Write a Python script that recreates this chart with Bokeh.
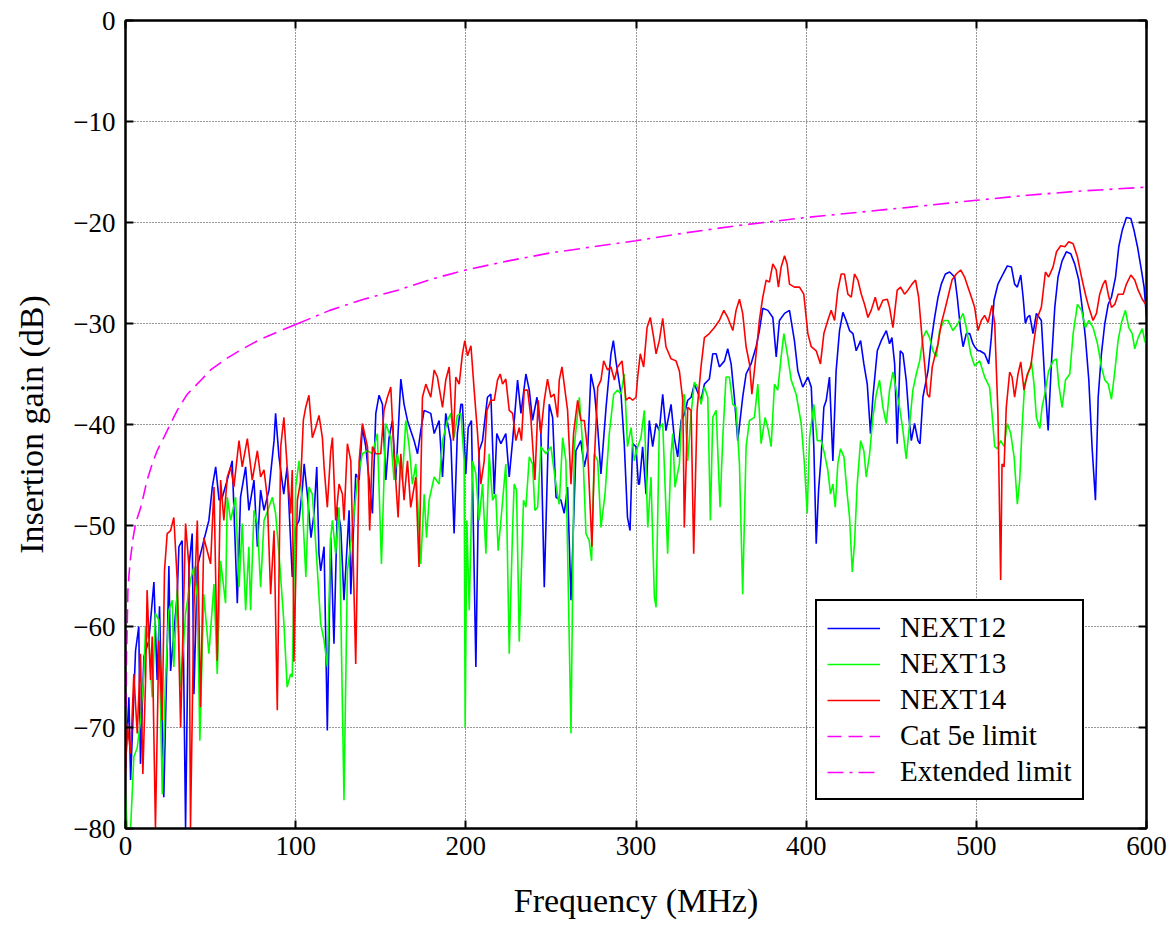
from bokeh.plotting import figure
from bokeh.models import LinearAxis, Range1d, Legend, LegendItem, FixedTicker
from bokeh.embed import file_html
from bokeh.resources import INLINE

# ---------------- data ----------------
f12 = [0, 2, 3, 5.9, 7.8, 8.8, 10.8, 13.7, 16.7, 18.6, 20, 22.5, 24.5, 25.5, 26.5, 30.4, 31.4, 33.3, 35.3, 37.3,
       39.2, 40.2, 42.2, 46, 49, 51, 53, 55, 56.9, 59.8, 62.7, 65.7, 67.6, 70.6, 72.5, 75.5, 77.5, 79.4, 81.4, 84.3,
       87.3, 88.2, 90.2, 93, 95, 98, 100, 102, 104, 105, 107, 109, 110.8, 112.4, 113.7, 114.7, 116.7, 118.6, 120.6, 122.5,
       124.5, 126.5, 128.4, 131.4, 132.4, 135.3, 137.3, 139.2, 141.2, 145.1, 147.1, 149, 151, 153, 154.9, 156.9, 158.8, 161.8, 163.7, 165.7,
       167.6, 169.6, 171.6, 173.5, 175.5, 179.4, 181.4, 184.3, 186.3, 188.2, 191.2, 193.1, 195, 197.1, 198, 200, 201.4, 203.3, 205.9, 207.8,
       209.8, 212.7, 214.7, 216.7, 218.2, 220.6, 223.5, 225.5, 227.5, 230.4, 232.4, 235.3, 237.3, 239.2, 241.8, 244.1, 246.1, 249, 251, 253,
       255.9, 257.8, 259.8, 261.8, 264.7, 267.6, 269.6, 271.6, 273.5, 275.5, 277.5, 279.4, 282.4, 285.3, 286.7, 288.2, 291.2, 293.1, 295, 296.5,
       298, 300, 301.4, 302, 303.9, 305.9, 307.8, 309.8, 311.8, 313.7, 315.7, 317.6, 320.6, 322.5, 324.5, 326.5, 328.4, 330.4, 332.4, 334.3,
       338.2, 340.2, 343.1, 345.1, 347.1, 349, 352, 353.9, 355.9, 357.8, 359.8, 362.7, 364.7, 367.6, 370.6, 372.5, 374.5, 377.5, 380.4, 382.4,
       384.3, 387.3, 390.2, 393.1, 395.1, 398, 401, 403, 404.5, 405.9, 407.3, 408.8, 410.4, 411.8, 413.7, 415.7, 417.6, 419.6, 421.6, 423.5,
       425.5, 427.5, 429.4, 432, 433.9, 435.9, 437.8, 439.2, 441.8, 444.1, 447.1, 449, 450.4, 452, 453.5, 455.3, 456.9, 458.8, 460.4, 461.8,
       463.7, 465.7, 466.9, 468.6, 471.6, 473.5, 475.5, 477.5, 479.4, 481.8, 484.3, 487.3, 488.8, 490.8, 492.2, 494.1, 496.1, 498, 499, 501,
       502, 504.9, 507.3, 508.8, 510.4, 512.7, 515.7, 518.2, 520.6, 522.5, 524.1, 526.1, 527.5, 528.8, 530, 531.4, 533.3, 535.3, 538.2, 540.2,
       542.2, 544.1, 546.1, 548, 550.4, 552.9, 555.5, 557.8, 560.2, 562.2, 564.1, 566.1, 568, 570, 571.6, 573.5, 575.5, 577.5, 579.4, 581.8,
       583.7, 585.7, 588.2, 590.8, 592.7, 594.7, 596.7, 598.6, 600]
next12 = [-74, -67, -75.2, -62.4, -60, -73.6, -63, -61.4, -55.6, -65.3, -58, -76.9, -62, -54, -64.4, -56.8, -52.1, -51.5, -80, -54.1,
          -50.8, -66.7, -54.1, -51.5, -49.5, -46.2, -44.2, -47.5, -47.2, -45.5, -43.6, -57.7, -47.2, -44.2, -48.5, -45.5, -52.1, -46.5, -48.5, -46.5,
          -41.6, -38.9, -43.2, -46.9, -44.2, -55.1, -50.2, -49.5, -46.2, -43.9, -47.2, -51.2, -48.8, -44.2, -52.8, -54.5, -52.1, -70.3, -51.2, -61.7,
          -48.2, -50.2, -57.4, -48.5, -56.8, -44.9, -45.5, -40.3, -42.2, -48.8, -38.9, -37.1, -38, -45.5, -41.3, -39.6, -45.5, -35.5, -38, -39.6,
          -40.6, -41.6, -42.9, -40.6, -38.6, -38.9, -40.9, -39.6, -45.2, -38.9, -41.6, -50.8, -40.9, -38, -38, -44.9, -40.3, -39.6, -64, -42.6,
          -41.6, -37.3, -37, -46.9, -40.9, -41.9, -40.9, -45.2, -41.6, -35.6, -38.9, -35, -36.6, -39.6, -37.3, -40.9, -56.1, -38, -39.3, -47.2,
          -47.5, -48.8, -46.2, -57.4, -42.6, -41.6, -44.2, -42.6, -35, -36.6, -40.3, -44.9, -38.3, -33, -31.7, -33.7, -37, -41.9, -49.2, -50.5,
          -41.9, -42.2, -45.9, -45.9, -42.2, -46.9, -39.6, -42.2, -39.9, -40.6, -37, -40.6, -38, -41.3, -43.2, -39.6, -39, -37.6, -37.3, -36,
          -37.6, -36, -35.5, -33, -33, -34.3, -33.7, -32.5, -34, -37.3, -41.6, -37.3, -35, -34, -32.3, -30.7, -28.5, -28.7, -29.4, -33.3,
          -29.7, -29, -28.7, -31.7, -34.7, -36.3, -35.3, -36.3, -42.2, -51.8, -46.5, -43.2, -38.3, -37.6, -35.3, -43.6, -34.7, -30.7, -28.9, -29.7,
          -30.7, -31, -32.7, -31.7, -34, -36, -40.9, -37.3, -32.7, -31.7, -30.7, -32, -31.4, -34, -41.9, -32.7, -33, -35.6, -39.3, -41.6,
          -39.9, -41.6, -41.9, -37.3, -34.7, -31.7, -29.4, -27.4, -26.1, -25.1, -24.9, -25.4, -27.4, -30.7, -32.3, -31, -31, -32, -32.3, -32.7,
          -32.7, -33, -34, -31.4, -27.7, -26.1, -25.1, -24.3, -24.4, -26.1, -26.4, -25.2, -27.4, -30, -29.4, -29.2, -31, -29, -29.7, -35.6,
          -40.6, -34, -28.4, -25.4, -23.8, -22.9, -23.1, -24.1, -25.7, -28.4, -31.4, -35.6, -42.2, -47.5, -37.3, -33, -30, -28.1, -27.4, -25.4,
          -22.4, -20.8, -19.5, -19.6, -20.8, -22.4, -24.4, -26.4, -29.4]

f13 = [0, 1, 3, 4.9, 6.9, 8.8, 10.8, 11.8, 13.7, 15.7, 17.6, 19.6, 21.6, 23.5, 25.5, 27.5, 28.4, 30.4, 32.4, 35.3,
       38.2, 40.2, 42.2, 43.7, 46, 49, 52, 53.9, 55.9, 58.8, 59.8, 61.8, 64.7, 66.7, 68.6, 70.6, 72.5, 73.5, 75.5, 77.5,
       79.4, 81.4, 84.3, 86.3, 88.2, 90.2, 93, 95, 97, 98, 100, 102, 104, 106, 107.8, 109.8, 111.8, 114.7, 116.7, 118.6,
       120.6, 121.6, 123.5, 125.5, 128.4, 130.4, 133.3, 136.3, 139.2, 142.2, 145.1, 148, 150.4, 152.9, 155.9, 157.8, 159.8, 162.7, 164.7, 166.7,
       168.6, 170.6, 173.5, 175.5, 176.9, 178.4, 181.4, 184.3, 186.3, 189.2, 191.2, 193.1, 195, 197.1, 199, 199.6, 200.6, 202, 204, 205.9,
       207.8, 209.8, 211.8, 213.7, 215.7, 217.6, 219, 220.6, 223.5, 225.5, 227.5, 228.4, 229.8, 231.4, 233.9, 235.3, 237.3, 239.2, 240.6, 242.2,
       244.1, 247.1, 250, 252.9, 254.9, 256.9, 258.8, 261.8, 263.7, 266.7, 268.6, 270.6, 272.5, 273.9, 275.5, 277.5, 279.4, 281.8, 284.3, 286.9,
       289.2, 291.2, 293.1, 295, 297.1, 299, 301, 302.9, 304.9, 306.9, 308.8, 310.8, 311.8, 313.7, 315.7, 318.6, 320.6, 321.6, 322.9, 325.5,
       327.5, 328.4, 330.4, 332.4, 334.3, 336.3, 338.2, 340.2, 342.2, 343.7, 345.1, 347.1, 349.4, 351, 352.9, 354.9, 356.9, 358.8, 360.8, 362.7,
       364.7, 366.7, 369.6, 371.6, 373.5, 375.9, 377.8, 379.4, 381.4, 383.3, 385.3, 386.9, 389.2, 391.2, 394.1, 397.1, 399, 400.6, 402, 404.5,
       406.5, 408.8, 410.8, 412.7, 414.3, 415.7, 417.1, 418.6, 420.2, 422.2, 424.1, 425.5, 427.1, 428.4, 430, 432, 433.9, 435.3, 437.3, 439.2,
       441.2, 443.1, 445.1, 447.1, 449, 451, 452.9, 454.9, 456.9, 458.8, 460.8, 462.7, 464.7, 466.7, 468.6, 470.6, 472.5, 474.5, 476.5, 478.4,
       481, 483.3, 486.3, 489.2, 492.2, 494.1, 496.7, 499, 502, 504.9, 507.8, 509.2, 510.8, 512.4, 514.3, 516.3, 518.2, 520.2, 522.2, 524.1,
       525.5, 526.9, 528.4, 530.4, 532.4, 533.9, 535.3, 537.3, 538.6, 540.2, 542.5, 545.1, 547.1, 548.4, 550.4, 552.4, 554.9, 556.9, 559.4, 561.8,
       564.1, 566.1, 568.6, 571.2, 573.5, 575.5, 577.5, 579.4, 581.4, 583.3, 585.3, 587.6, 589.6, 591.6, 593.1, 595.1, 597.5, 599, 600]
next13 = [-76.6, -80, -80, -72.9, -72, -69.3, -64.7, -60, -61.4, -67, -58.7, -59.4, -76.6, -65.3, -58.4, -57.4, -64, -56.4, -66, -58.7,
          -55.4, -54.1, -57.1, -71.3, -56.8, -62.7, -55.8, -64.7, -53.5, -57.7, -47.2, -49.5, -47.2, -56.1, -49.8, -58.4, -52.1, -58.4, -48.5, -49.8,
          -56.1, -49.5, -48.2, -47.2, -48.8, -52.8, -59.4, -66, -64.7, -65, -46.2, -43.6, -48.2, -55.1, -46.2, -46.9, -51.8, -59.7, -61.4, -64,
          -51.2, -49.5, -52.8, -48.2, -77.2, -54.5, -50.5, -45.5, -42.9, -42.6, -42.9, -40.9, -53.8, -39.9, -41.3, -45.5, -42.9, -45.5, -39.6, -42.2,
          -45.9, -43.9, -53.8, -46.9, -51.2, -47.5, -45.2, -45.9, -41.6, -39.6, -38.9, -41.3, -39.1, -38.9, -43.6, -70, -49.5, -58.4, -43.6, -44.9,
          -49.5, -45.9, -52.8, -42.9, -47.5, -46.9, -52.5, -49.5, -43.9, -62.7, -50.2, -45.9, -46.5, -61.5, -47.5, -48.2, -43.2, -43.9, -48.5, -48.2,
          -42.2, -42.9, -42.2, -45.9, -47.9, -41.3, -43.6, -70.6, -42.2, -37.3, -41.9, -50.8, -51.5, -53.5, -42.9, -43.6, -50.2, -46.9, -40.9, -37,
          -36.6, -37, -35, -42.2, -40.3, -43.6, -42.2, -41.3, -38.6, -50.2, -45.2, -57.1, -58.1, -40.3, -39.9, -52.8, -42.9, -40.9, -46.2, -43.9,
          -37.3, -37, -43.6, -38.9, -35.8, -36.3, -38, -36.3, -37.3, -49.5, -39.3, -38.6, -48.2, -41.3, -35.3, -35.3, -38, -38.3, -43.9, -56.8,
          -42.2, -39.6, -39.3, -36, -41.9, -39.3, -40.6, -42.2, -36, -36.6, -33.3, -31, -33.3, -35.6, -37, -39.9, -44, -48.8, -41.3, -38,
          -41.6, -41.6, -42.9, -44.5, -46.9, -45.9, -48.2, -43.9, -42.4, -43.2, -46.9, -49.2, -54.6, -51.8, -45.9, -41.6, -42.6, -45.2, -42.9, -39.3,
          -37, -35.6, -38.3, -39.9, -36.6, -34.8, -36.6, -38.3, -40.6, -43.4, -39.9, -36.6, -35, -33.7, -31.4, -30.7, -31.4, -32.7, -33.3, -30.7,
          -29.7, -29.7, -30.7, -30, -29, -30.4, -33, -34.2, -33.7, -35.3, -36.3, -38.9, -42.2, -42.4, -41.6, -42.2, -39.9, -40.9, -43.2, -47.9,
          -45.5, -40.3, -36, -35, -33.8, -36, -39.3, -40.4, -38.3, -37, -34.7, -33.7, -33.5, -36, -38.3, -35.6, -35, -31, -28.1, -28.7,
          -30.4, -29.7, -30.4, -32, -34.3, -35.6, -36, -37.5, -34.7, -31.7, -29.9, -28.7, -30.4, -31, -32.5, -31.4, -30.5, -31.7, -32.2]

f14 = [0, 1, 3, 4.9, 6.9, 8.8, 10.2, 11.8, 12.7, 14.7, 15.7, 17.6, 19.6, 21.6, 22.9, 24.5, 26.5, 28.4, 30.4, 32.4,
       35.3, 37.3, 38.2, 40.2, 42.2, 44.1, 46, 48, 50, 52, 53.9, 55.9, 57.8, 59.8, 61.8, 63.7, 66.7, 68.6, 71.6, 74.5,
       77.5, 79.4, 81.4, 83.3, 85.3, 87.3, 89.2, 91.2, 93.1, 95, 97, 98, 99, 101, 103, 104.5, 105.9, 107.8, 109.8, 111.8,
       113.7, 115.7, 116.7, 118.6, 120.6, 121.6, 123.5, 125.5, 127.5, 128.4, 130.4, 132.4, 135.3, 137.3, 139.2, 142.2, 143.5, 145.1, 147.1, 150,
       151.9, 153.9, 155.9, 157.8, 160.2, 161.8, 163.7, 165.7, 167.6, 170.6, 172.5, 174.5, 176.5, 179.4, 181.4, 183.3, 186.3, 188.2, 190.2, 192.7,
       194.1, 196.1, 198, 199.4, 201, 203, 204.9, 206.9, 208.8, 210.8, 212.4, 214.7, 216.7, 218.6, 220.2, 221.6, 223.5, 225.5, 227.5, 229.4,
       231.4, 232.7, 234.3, 236.3, 238.2, 240.6, 242.5, 244.1, 246.1, 248, 250, 251.9, 253.9, 254.9, 256.5, 257.8, 259.8, 261.8, 263.3, 265.7,
       267.6, 269.6, 271.6, 274.1, 275.5, 277.5, 279.4, 281, 283.3, 285.3, 287.3, 289.2, 291.8, 294.1, 296.1, 298, 300, 301, 302.5, 304.5,
       306.5, 308.4, 310.4, 311.8, 313.7, 315.7, 317.6, 320.6, 323.5, 325.5, 327.5, 328.4, 330.4, 332.4, 333.9, 335.9, 338.2, 340.2, 343.1, 346.1,
       349, 351.6, 353.9, 356.9, 358.8, 360.8, 362.7, 364.7, 366.7, 368.1, 370, 372.5, 374.5, 376.5, 378.4, 380.4, 382.4, 383.7, 385.3, 387.3,
       388.8, 390.2, 393.1, 396.1, 398.6, 401, 403, 405.9, 408.4, 410.4, 412.7, 414.7, 416.7, 418.6, 420.6, 422.5, 424.5, 426.5, 428.4, 430.4,
       432.4, 434.3, 436.3, 438.2, 440.6, 442.5, 445.1, 447.7, 449, 451, 453.5, 455.5, 457.8, 459.8, 462.2, 464.3, 466.1, 468.1, 469.6, 471.2,
       472.5, 474.1, 475.5, 477.5, 479.4, 481.4, 483.3, 485.7, 488.2, 490.8, 493.1, 495.1, 497.1, 499, 501, 502.9, 504.9, 506.9, 509.2, 510.8,
       512.7, 514.3, 515.1, 516.3, 517.6, 519.6, 521, 522.5, 524.5, 526.1, 528, 530, 532, 533.9, 535.9, 538.2, 540.6, 542.5, 545.1, 547.1,
       549.6, 552, 554.3, 556.9, 559.4, 561.8, 564.1, 566.1, 568.6, 570.6, 572.5, 574.5, 575.9, 577.5, 579.4, 581.4, 583.3, 586.3, 588.2, 590.8,
       593.1, 595.1, 597.5, 600]
next14 = [-74.6, -69.6, -72.6, -64.7, -70.6, -62.7, -74.6, -65.3, -56.4, -65.3, -61, -80, -61.4, -69.3, -54.5, -50.8, -50.5, -49.2, -55.4, -70,
          -49.8, -54.1, -80, -58.1, -49.5, -68, -51.2, -52.5, -53.8, -46.2, -63.4, -45.5, -49.5, -45.2, -44.2, -46.2, -41.6, -44.2, -41.4, -45.5,
          -42.6, -45.2, -44.5, -47.2, -56.8, -50.5, -68.3, -42.2, -39.3, -44.2, -48.8, -44.5, -63.5, -47.5, -45.5, -39.6, -38.3, -37.1, -41.3, -40.3,
          -39.1, -41.3, -44.2, -48.2, -42.6, -41.3, -49.5, -45.9, -46.9, -49.5, -41.9, -43.6, -63.7, -43.6, -39.9, -42.2, -50.5, -42.2, -42.9, -42.9,
          -38.6, -37.3, -36.3, -42.9, -49.2, -42.9, -47.5, -43.6, -48.2, -45.2, -54.1, -37.3, -36, -37.3, -34.6, -35.3, -38.3, -35.6, -34.3, -41.6,
          -35.3, -36, -33, -31.7, -33.2, -32.2, -36.6, -40.9, -45.9, -43.6, -38.6, -37.6, -37.6, -35.6, -35, -36, -35.5, -38.6, -38.9, -41.6,
          -40.3, -41.6, -36.6, -36.6, -39.3, -45.5, -37.6, -40.9, -37.6, -35.5, -37.3, -37, -39.3, -35.6, -34.3, -36, -38.6, -45.9, -40.9, -37.6,
          -39.6, -39.6, -42.6, -52.1, -43.6, -36.3, -35.6, -33.7, -34.6, -34.3, -35.6, -34.3, -33.7, -37.6, -37.3, -37.6, -37.3, -35.3, -33, -34.3,
          -30.4, -29.4, -31.4, -33, -31.7, -29.5, -32.3, -33.5, -33.7, -34.7, -37.6, -50.2, -38.3, -38.6, -52.8, -38.6, -34.3, -31.4, -31, -30.4,
          -29.7, -28.7, -29.4, -30.7, -28.7, -27.6, -29, -32.3, -34, -37, -34, -29.7, -27.4, -25.7, -25.9, -24.1, -24.7, -26.4, -24.4, -23.3,
          -24.1, -26.1, -26.4, -26.4, -27.1, -31, -32.3, -32.7, -34, -31, -29.7, -28.7, -29.7, -26.7, -25.1, -25.1, -27.1, -27.4, -25.1, -25.7,
          -27.1, -28.1, -29.4, -28.7, -27.4, -28.7, -27.7, -27.6, -28.4, -30.4, -26.7, -26.4, -27.1, -26.7, -26.1, -25.7, -27.4, -31.4, -34, -37,
          -37.3, -34.3, -33.3, -32, -30, -28.7, -27.4, -25.7, -25.1, -24.7, -25.4, -26.4, -27.4, -28.4, -30.7, -29.7, -29.2, -29.9, -28.2, -30,
          -38.9, -55.4, -43.9, -44.2, -38.3, -34.8, -35.3, -37.3, -35, -33.8, -36.6, -35, -34.3, -31.7, -29.4, -28.4, -24.9, -25.4, -24.4, -22.9,
          -22.3, -22.4, -21.9, -22.1, -23.4, -25.4, -27.1, -28.4, -29.7, -29, -27.1, -26.1, -25.7, -27.1, -28.4, -28.1, -27.1, -27.1, -26.1, -25.2,
          -25.7, -26.7, -27.6, -28.2]

f_cat5e = [0.4, 0.6, 1, 1.4, 2, 2.9, 4.5, 5.9, 8.8, 10.8, 12.7, 15.7, 18.6, 22.5, 26.5, 30.4, 36.3, 45, 50, 60, 70, 80, 90, 100]
cat5e = [-68, -63, -60, -56.5, -55, -53.3, -51.2, -49.8, -48.3, -46.9, -45.5, -43.9, -42.6, -41.3, -39.9, -38.6, -37.0, -35.5, -34.6, -33.4, -32.4, -31.5, -30.8, -30.1]

f_ext = [100, 120, 140, 160, 180, 200, 225, 250, 275, 300, 330, 360, 400, 430, 460, 500, 530, 560, 600]
ext = [-30.1, -28.7, -27.6, -26.7, -25.6, -24.7, -23.8, -23.0, -22.4, -21.8, -21.0, -20.3, -19.5, -19.0, -18.5, -17.8, -17.3, -16.9, -16.5]

x_ticks = [0, 100, 200, 300, 400, 500, 600]
y_ticks = [-80, -70, -60, -50, -40, -30, -20, -10, 0]

FONT = "Liberation Serif"

p = figure(width=1174, height=937, output_backend="svg", toolbar_location=None,
           x_range=Range1d(0, 600), y_range=Range1d(-80, 0),
           min_border_left=125, min_border_right=28, min_border_top=20, min_border_bottom=109,
           background_fill_color="white", border_fill_color="white")

p.outline_line_color = "black"
p.outline_line_width = 2

for ax in (p.xaxis[0], p.yaxis[0]):
    ax.axis_line_width = 2
    ax.major_tick_in = 8
    ax.major_tick_out = 0
    ax.major_tick_line_width = 2
    ax.minor_tick_line_color = None
    ax.major_label_text_font = FONT
    ax.major_label_text_font_size = "27px"
    ax.major_label_text_color = "black"
    ax.axis_label_text_font = FONT
    ax.axis_label_text_font_size = "34px"
    ax.axis_label_text_font_style = "normal"
    ax.axis_label_text_color = "black"

p.xaxis.ticker = FixedTicker(ticks=x_ticks)
p.yaxis.ticker = FixedTicker(ticks=y_ticks)
p.xaxis.axis_label = "Frequency (MHz)"
p.yaxis.axis_label = "Insertion gain (dB)"
p.xaxis.major_label_standoff = 8
p.yaxis.major_label_standoff = 10
p.xaxis.axis_label_standoff = 24
p.yaxis.axis_label_standoff = 20

# mirrored inward ticks on top and right (labels not drawn)
right = LinearAxis(ticker=FixedTicker(ticks=y_ticks), major_label_text_font_size="1px",
                   major_label_text_color=None, major_label_standoff=0,
                   major_tick_in=8, major_tick_out=0, major_tick_line_width=2,
                   minor_tick_line_color=None, axis_line_width=2)
top = LinearAxis(ticker=FixedTicker(ticks=x_ticks), major_label_text_font_size="1px",
                 major_label_text_color=None, major_label_standoff=0,
                 major_tick_in=8, major_tick_out=0, major_tick_line_width=2,
                 minor_tick_line_color=None, axis_line_width=2)
p.add_layout(right, "right")
p.add_layout(top, "above")

p.xgrid.ticker = FixedTicker(ticks=x_ticks)
p.ygrid.ticker = FixedTicker(ticks=y_ticks)
for g in (p.xgrid[0], p.ygrid[0]):
    g.grid_line_color = "black"
    g.grid_line_dash = "1 2"
    g.grid_line_width = 1
    g.grid_line_alpha = 0.8

lw = 1.6
r12 = p.line(f12, next12, line_color="#0000ff", line_width=lw)
r13 = p.line(f13, next13, line_color="#00ff00", line_width=lw)
r14 = p.line(f14, next14, line_color="#ff0000", line_width=lw)
rc = p.line(f_cat5e, cat5e, line_color="#ff00ff", line_width=1.6, line_dash="14 7")
re = p.line(f_ext, ext, line_color="#ff00ff", line_width=1.6, line_dash="16 6 3 6")

legend = Legend(items=[
    LegendItem(label="NEXT12", renderers=[r12]),
    LegendItem(label="NEXT13", renderers=[r13]),
    LegendItem(label="NEXT14", renderers=[r14]),
    LegendItem(label="Cat 5e limit", renderers=[rc]),
    LegendItem(label="Extended limit", renderers=[re]),
], location=(690, 28))
legend.label_text_font = FONT
legend.label_text_font_size = "29px"
legend.label_text_color = "black"
legend.label_height = 30
legend.glyph_height = 30
legend.glyph_width = 53
legend.label_standoff = 20
legend.spacing = 3
legend.padding = 10
legend.margin = 0
legend.border_line_color = "black"
legend.border_line_alpha = 1.0
legend.border_line_width = 2
legend.background_fill_color = "white"
legend.background_fill_alpha = 1
p.add_layout(legend, "center")

open("out.html", "w").write(file_html(p, INLINE))
